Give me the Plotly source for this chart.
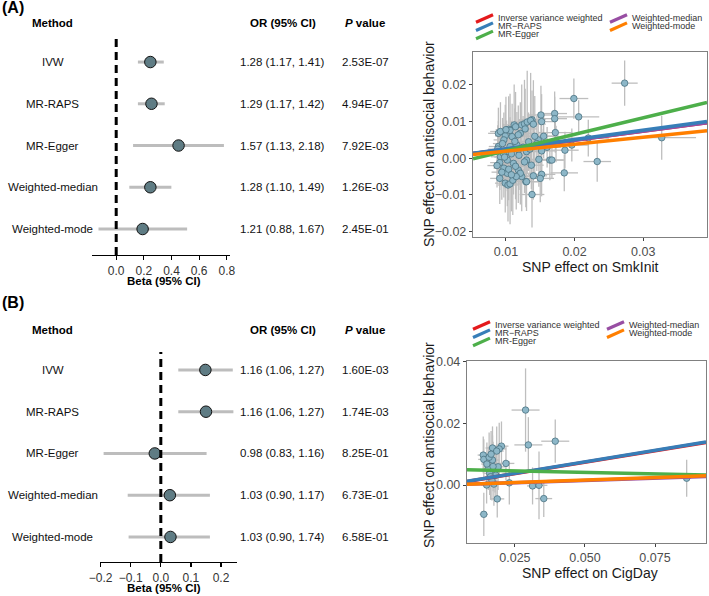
import plotly.graph_objects as go

W, H = 709, 596
FONT = "Arial, Liberation Sans, sans-serif"

# ---------------- data ----------------
methods = ["IVW", "MR-RAPS", "MR-Egger", "Weighted-median", "Weighted-mode"]
row_pos = [5, 4, 3, 2, 1]

# Panel A (SmkInit)
betaA = [0.247, 0.255, 0.451, 0.247, 0.191]
loA = [0.157, 0.157, 0.122, 0.095, -0.128]
hiA = [0.344, 0.351, 0.779, 0.399, 0.513]
orA = ["1.28 (1.17, 1.41)", "1.29 (1.17, 1.42)", "1.57 (1.13, 2.18)", "1.28 (1.10, 1.49)", "1.21 (0.88, 1.67)"]
pA = ["2.53E-07", "4.94E-07", "7.92E-03", "1.26E-03", "2.45E-01"]

# Panel B (CigDay)
betaB = [0.148, 0.150, -0.020, 0.030, 0.032]
loB = [0.058, 0.058, -0.190, -0.110, -0.107]
hiB = [0.239, 0.241, 0.152, 0.163, 0.163]
orB = ["1.16 (1.06, 1.27)", "1.16 (1.06, 1.27)", "0.98 (0.83, 1.16)", "1.03 (0.90, 1.17)", "1.03 (0.90, 1.74)"]
pB = ["1.60E-03", "1.74E-03", "8.25E-01", "6.73E-01", "6.58E-01"]

# regression lines in scatter panels: slope and intercept
line_names = ["Inverse variance weighted", "Weighted-median", "MR\u2212RAPS", "MR-Egger", "Weighted-mode"]
line_colors = ["#E41A1C", "#984EA3", "#377EB8", "#4DAF4A", "#FF7F00"]
slopeA = [0.247, 0.247, 0.255, 0.451, 0.191]
interA = [0.0, 0.0, 0.0, -0.0025, 0.0]
slopeB = [0.148, 0.030, 0.150, -0.0202, 0.032]
interB = [0.0, 0.0, 0.0, 0.0051, 0.0]

# SNP scatter A: x, y, se_x, se_y
snpA_x = [0.0273, 0.0199, 0.0206, 0.0327, 0.0233, 0.0220, 0.0185, 0.0186, 0.0196, 0.0173,
          0.0171, 0.0171, 0.0172, 0.0164, 0.0167, 0.0155, 0.0151, 0.0152, 0.0138, 0.0152,
          0.0150, 0.0138, 0.0140, 0.0152, 0.0160, 0.0147, 0.0129, 0.0137, 0.0130, 0.0089,
          0.0092, 0.0099, 0.0104, 0.0106, 0.0112, 0.0114, 0.0121, 0.0123, 0.0127, 0.0131,
          0.0136, 0.0097, 0.0109, 0.0118, 0.0106, 0.0089, 0.0118, 0.0133, 0.0145, 0.0101,
          0.0092, 0.0130, 0.0096, 0.0102, 0.0116, 0.0091, 0.0097, 0.0102, 0.0111, 0.0118,
          0.0123, 0.0130, 0.0091, 0.0099, 0.0103, 0.0106, 0.0110, 0.0121, 0.0104, 0.0113,
          0.0125, 0.0108, 0.0095, 0.0088, 0.0087, 0.0094, 0.0114, 0.0119, 0.0127, 0.0135,
          0.0140, 0.0128, 0.0100, 0.0098, 0.0115, 0.0108, 0.0142, 0.0148]
snpA_y = [0.0205, 0.0163, 0.0113, 0.0056, -0.0009, 0.0055, -0.0040, 0.0022, 0.0036, 0.0039,
          0.0122, 0.0108, 0.0070, -0.0005, -0.0005, 0.0060, 0.0118, 0.0100, 0.0105, -0.0044,
          -0.0055, -0.0099, -0.0048, 0.0020, 0.0030, 0.0050, -0.0064, -0.0019, -0.0005, 0.0068,
          0.0073, 0.0061, 0.0079, 0.0076, 0.0091, 0.0086, 0.0068, 0.0091, 0.0094, 0.0099,
          0.0103, 0.0050, 0.0059, 0.0064, 0.0032, 0.0032, 0.0023, 0.0045, 0.0040, 0.0018,
          0.0004, 0.0018, 0.0014, -0.0005, 0.0036, -0.0012, -0.0027, -0.0041, -0.0014, -0.0032,
          -0.0050, -0.0064, -0.0055, -0.0068, -0.0073, -0.0070, -0.0060, -0.0041, -0.0030, 0.0046,
          0.0030, 0.0012, 0.0040, 0.0025, -0.0020, -0.0038, -0.0022, 0.0008, -0.0010, 0.0025,
          0.0093, 0.0080, 0.0078, 0.0003, -0.0050, -0.0045, 0.0060, -0.0003]
snpA_sx = [0.0019, 0.0021, 0.0030, 0.0050, 0.0020, 0.0030, 0.0020, 0.0020, 0.0025, 0.0020,
           0.0018, 0.0018, 0.0025, 0.0020, 0.0018, 0.0020, 0.0020, 0.0020, 0.0020, 0.0020,
           0.0020, 0.0018, 0.0020, 0.0022, 0.0020, 0.0020, 0.0018, 0.0018, 0.0018, 0.0015,
           0.0015, 0.0015, 0.0015, 0.0016, 0.0016, 0.0017, 0.0017, 0.0017, 0.0017, 0.0018,
           0.0018, 0.0015, 0.0016, 0.0016, 0.0015, 0.0014, 0.0016, 0.0030, 0.0040, 0.0015,
           0.0014, 0.0017, 0.0015, 0.0015, 0.0016, 0.0014, 0.0015, 0.0015, 0.0016, 0.0016,
           0.0017, 0.0017, 0.0014, 0.0015, 0.0015, 0.0016, 0.0016, 0.0017, 0.0015, 0.0016,
           0.0017, 0.0015, 0.0014, 0.0014, 0.0014, 0.0015, 0.0016, 0.0016, 0.0017, 0.0018,
           0.0018, 0.0017, 0.0015, 0.0015, 0.0016, 0.0016, 0.0035, 0.0019]
snpA_sy = [0.0062, 0.0055, 0.0045, 0.0060, 0.0055, 0.0050, 0.0050, 0.0050, 0.0045, 0.0050,
           0.0060, 0.0060, 0.0055, 0.0055, 0.0050, 0.0060, 0.0080, 0.0075, 0.0080, 0.0060,
           0.0065, 0.0090, 0.0065, 0.0060, 0.0055, 0.0065, 0.0070, 0.0065, 0.0070, 0.0070,
           0.0080, 0.0085, 0.0090, 0.0100, 0.0110, 0.0095, 0.0085, 0.0110, 0.0120, 0.0140,
           0.0130, 0.0075, 0.0090, 0.0080, 0.0080, 0.0070, 0.0075, 0.0080, 0.0075, 0.0085,
           0.0070, 0.0080, 0.0080, 0.0085, 0.0090, 0.0075, 0.0080, 0.0090, 0.0085, 0.0090,
           0.0095, 0.0080, 0.0070, 0.0080, 0.0100, 0.0110, 0.0095, 0.0085, 0.0085, 0.0090,
           0.0085, 0.0090, 0.0070, 0.0065, 0.0060, 0.0075, 0.0090, 0.0095, 0.0085, 0.0090,
           0.0120, 0.0110, 0.0090, 0.0085, 0.0090, 0.0100, 0.0110, 0.0075]

# SNP scatter B: x, y, se_x, se_y
snpB_x = [0.0288, 0.0298, 0.0394, 0.0863, 0.0313, 0.0336, 0.0353, 0.0230, 0.0218, 0.0137,
          0.0139, 0.0170, 0.0170, 0.0155, 0.0179, 0.0202, 0.0194, 0.0185, 0.0190, 0.0160,
          0.0182, 0.0149, 0.0175, 0.0187, 0.0139, 0.0163, 0.0158, 0.0165, 0.0150, 0.0172,
          0.0168]
snpB_y = [0.0243, 0.0130, 0.0142, 0.0022, -0.0003, -0.0001, -0.0044, 0.0007, 0.0070, 0.0097,
          0.0083, 0.0120, 0.0081, 0.0054, 0.0051, 0.0126, 0.0117, 0.0110, 0.0059, 0.0038,
          0.0032, 0.0000, 0.0003, -0.0045, -0.0095, 0.0027, 0.0090, 0.0100, 0.0068, 0.0060,
          0.0015]
snpB_sx = [0.0050, 0.0050, 0.0050, 0.0015, 0.0020, 0.0030, 0.0030, 0.0030, 0.0030, 0.0020,
           0.0020, 0.0025, 0.0025, 0.0020, 0.0025, 0.0025, 0.0025, 0.0025, 0.0025, 0.0020,
           0.0025, 0.0020, 0.0025, 0.0025, 0.0015, 0.0020, 0.0020, 0.0020, 0.0020, 0.0020,
           0.0020]
snpB_sy = [0.0135, 0.0090, 0.0070, 0.0060, 0.0060, 0.0110, 0.0060, 0.0070, 0.0055, 0.0060,
           0.0065, 0.0070, 0.0080, 0.0070, 0.0075, 0.0080, 0.0085, 0.0080, 0.0075, 0.0070,
           0.0070, 0.0060, 0.0070, 0.0060, 0.0070, 0.0075, 0.0080, 0.0075, 0.0070, 0.0080,
           0.0065]

# ---------------- helpers ----------------
def px(x):
    return x / W

def py(y):
    return 1 - y / H

fig = go.Figure()

# forest traces
def add_forest(beta, lo, hi, xa, ya):
    fig.add_trace(go.Scatter(
        x=beta, y=row_pos, mode="markers", xaxis=xa, yaxis=ya, showlegend=False,
        marker=dict(size=11.5, color="#5F7C84", line=dict(color="#111111", width=1)),
        error_x=dict(type="data", symmetric=False,
                     array=[h - b for h, b in zip(hi, beta)],
                     arrayminus=[b - l for b, l in zip(beta, lo)],
                     color="#BDBDBD", thickness=3, width=0),
    ))

add_forest(betaA, loA, hiA, "x", "y")
add_forest(betaB, loB, hiB, "x2", "y2")

# scatter traces
def add_scatter(xs, ys, sx, sy, slopes, inters, xr, xa, ya):
    fig.add_trace(go.Scatter(
        x=xs, y=ys, mode="markers", xaxis=xa, yaxis=ya, showlegend=False,
        marker=dict(size=6.5, color="#8DB7C8", line=dict(color="#4A7282", width=0.8)),
        error_x=dict(type="data", array=sx, color="#BEBEBE", thickness=1.3, width=0),
        error_y=dict(type="data", array=sy, color="#BEBEBE", thickness=1.3, width=0),
    ))
    for s, b, c, n in zip(slopes, inters, line_colors, line_names):
        fig.add_trace(go.Scatter(
            x=[xr[0], xr[1]], y=[b + s * xr[0], b + s * xr[1]], mode="lines",
            xaxis=xa, yaxis=ya, showlegend=False, name=n,
            line=dict(color=c, width=3.5),
        ))

xrA = [0.0052, 0.0393]
xrB = [0.0079, 0.0932]
add_scatter(snpA_x, snpA_y, snpA_sx, snpA_sy, slopeA, interA, xrA, "x3", "y3")
add_scatter(snpB_x, snpB_y, snpB_sx, snpB_sy, slopeB, interB, xrB, "x4", "y4")

# ---------------- axes ----------------
forest_x = dict(showgrid=False, zeroline=False, showline=True, linecolor="#000000", linewidth=1.3,
                ticks="outside", ticklen=4, tickcolor="#000000", tickwidth=1.2, automargin=False,
                tickfont=dict(family=FONT, size=12, color="#333333"))
hidden_y = dict(visible=False, showgrid=False, zeroline=False, automargin=False)
box_x = dict(showgrid=False, zeroline=False, showline=True, mirror=True, linecolor="#808080", linewidth=1.2,
             ticks="outside", ticklen=3, tickcolor="#404040", tickwidth=1, automargin=False,
             tickfont=dict(family=FONT, size=12.5, color="#4D4D4D"))

fig.update_layout(
    template="none",
    xaxis=dict(domain=[px(92), px(230)], range=[-0.175, 0.823], anchor="y",
               tickvals=[0, 0.2, 0.4, 0.6, 0.8], ticktext=["0.0", "0.2", "0.4", "0.6", "0.8"], **forest_x),
    yaxis=dict(domain=[py(255), py(37)], range=[0.377, 5.6], anchor="x", **hidden_y),
    xaxis2=dict(domain=[px(100), px(237)], range=[-0.202, 0.253], anchor="y2",
                tickvals=[-0.2, -0.1, 0, 0.1, 0.2],
                ticktext=["\u22120.2", "\u22120.1", "0.0", "0.1", "0.2"], **forest_x),
    yaxis2=dict(domain=[py(562), py(352)], range=[0.4, 5.43], anchor="x2", **hidden_y),
    xaxis3=dict(domain=[px(473), px(707)], range=xrA, anchor="y3",
                tickvals=[0.01, 0.02, 0.03], ticktext=["0.01", "0.02", "0.03"], **box_x),
    yaxis3=dict(domain=[py(237), py(52)], range=[-0.0215, 0.0290], anchor="x3",
                tickvals=[-0.02, -0.01, 0, 0.01, 0.02],
                ticktext=["\u22120.02", "\u22120.01", "0.00", "0.01", "0.02"], **box_x),
    xaxis4=dict(domain=[px(467), px(706)], range=xrB, anchor="y4",
                tickvals=[0.025, 0.05, 0.075], ticktext=["0.025", "0.050", "0.075"], **box_x),
    yaxis4=dict(domain=[py(543), py(361)], range=[-0.0188, 0.0402], anchor="x4",
                tickvals=[0, 0.02, 0.04], ticktext=["0.00", "0.02", "0.04"], **box_x),
    width=W, height=H, margin=dict(l=0, r=0, t=0, b=0, pad=0), autosize=False,
    paper_bgcolor="white", plot_bgcolor="white", showlegend=False,
    font=dict(family=FONT, color="#000000"),
)

shapes = []
ann = []

# dashed zero lines
for xr_, yr_ in (("x", "y domain"), ("x2", "y2 domain")):
    shapes.append(dict(type="line", xref=xr_, yref=yr_, x0=0, x1=0, y0=0, y1=1,
                       line=dict(color="#000000", width=3, dash="8px,5px"), layer="above"))

# forest texts
def forest_text(yref, header_y, ors, ps, title_y, title_x):
    ann.append(dict(text="<b>Method</b>", x=px(53), y=py(header_y), xref="paper", yref="paper",
                    showarrow=False, font=dict(size=11.5, family=FONT), xanchor="center", yanchor="middle"))
    ann.append(dict(text="<b>OR (95% CI)</b>", x=px(283), y=py(header_y), xref="paper", yref="paper",
                    showarrow=False, font=dict(size=11.5, family=FONT), xanchor="center", yanchor="middle"))
    ann.append(dict(text="<b><i>P</i> value</b>", x=px(365), y=py(header_y), xref="paper", yref="paper",
                    showarrow=False, font=dict(size=11.5, family=FONT), xanchor="center", yanchor="middle"))
    for m, r, o, p in zip(methods, row_pos, ors, ps):
        ann.append(dict(text=m, x=px(53), y=r, xref="paper", yref=yref, showarrow=False,
                        font=dict(size=11.5, family=FONT, color="#111111"), xanchor="center", yanchor="middle"))
        ann.append(dict(text=o, x=px(282), y=r, xref="paper", yref=yref, showarrow=False,
                        font=dict(size=11.5, family=FONT, color="#111111"), xanchor="center", yanchor="middle"))
        ann.append(dict(text=p, x=px(365), y=r, xref="paper", yref=yref, showarrow=False,
                        font=dict(size=11.5, family=FONT, color="#111111"), xanchor="center", yanchor="middle"))
    ann.append(dict(text="<b>Beta (95% CI)</b>", x=px(title_x), y=py(title_y),
                    xref="paper", yref="paper", showarrow=False,
                    font=dict(size=11.5, family=FONT), xanchor="center", yanchor="middle"))

forest_text("y", 23, orA, pA, 281, 164)
forest_text("y2", 330, orB, pB, 588, 164)

# panel labels
ann.append(dict(text="<b>(A)</b>", x=px(0), y=py(8), xref="paper", yref="paper", showarrow=False,
                font=dict(size=16, family=FONT), xanchor="left", yanchor="middle"))
ann.append(dict(text="<b>(B)</b>", x=px(0), y=py(302), xref="paper", yref="paper", showarrow=False,
                font=dict(size=16, family=FONT), xanchor="left", yanchor="middle"))

# scatter axis titles
for ty, xt, yc, xc in ((267, "SNP effect on SmkInit", 144, 590), (573, "SNP effect on CigDay", 445, 590)):
    ann.append(dict(text=xt, x=px(xc), y=py(ty), xref="paper", yref="paper", showarrow=False,
                    font=dict(size=14, family=FONT, color="#1A1A1A"), xanchor="center", yanchor="middle"))
    ann.append(dict(text="SNP effect on antisocial behavior", x=px(429), y=py(yc), xref="paper", yref="paper",
                    showarrow=False, textangle=-90,
                    font=dict(size=14, family=FONT, color="#1A1A1A"), xanchor="center", yanchor="middle"))

# manual legends (two columns, diagonal key strokes)
def legend(x0, y0):
    entries = [("Inverse variance weighted", "#E41A1C", 0, 0),
               ("MR\u2212RAPS", "#377EB8", 0, 1),
               ("MR-Egger", "#4DAF4A", 0, 2),
               ("Weighted-median", "#984EA3", 1, 0),
               ("Weighted-mode", "#FF7F00", 1, 1)]
    for name, col, c, r in entries:
        kx = x0 + c * 134
        ky = y0 + r * 8.2
        shapes.append(dict(type="line", xref="paper", yref="paper",
                           x0=px(kx), y0=py(ky + 3.8), x1=px(kx + 17), y1=py(ky - 3.8),
                           line=dict(color=col, width=3.2)))
        ann.append(dict(text=name, x=px(kx + 21), y=py(ky - 0.5), xref="paper", yref="paper",
                        showarrow=False, font=dict(size=9, family=FONT, color="#333333"),
                        xanchor="left", yanchor="middle", borderpad=0))

legend(476, 18.5)
legend(473, 325.5)

fig.update_layout(shapes=shapes, annotations=ann)
fig.write_html("out.html", config={"displayModeBar": False, "staticPlot": True},
               post_script="document.body.style.margin='0';document.body.style.overflow='hidden';")
